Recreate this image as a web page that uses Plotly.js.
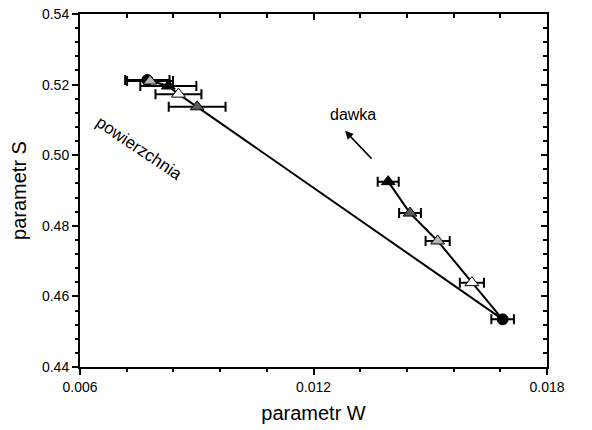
<!DOCTYPE html>
<html>
<head>
<meta charset="utf-8">
<script src="https://cdn.plot.ly/plotly-3.0.1.min.js"></script>
<style>html,body{margin:0;padding:0;background:#fff;}#chart{width:592px;height:430px;}</style>
</head>
<body>
<div id="chart"></div>
<script>
// Dose levels (marker order: circle, white, light gray, dark gray, black)
var levels = ['0', '1', '2', '3', '4'];

// "dawka" series (bulk) — parametr W, parametr S, W error
var dawkaW   = [0.01686, 0.01607, 0.01519, 0.01448, 0.01392];
var dawkaS   = [0.4535, 0.4639, 0.4757, 0.4836, 0.4925];
var dawkaErr = [0.00029, 0.00031, 0.00031, 0.00028, 0.00027];

// "powierzchnia" series (surface)
var powW   = [0.00773, 0.00853, 0.00780, 0.00901, 0.00827];
var powS   = [0.5213, 0.5173, 0.5210, 0.5137, 0.5196];
var powErr = [0.00057, 0.00059, 0.00059, 0.00073, 0.00072];

var xTicks = [0.006, 0.012, 0.018];
var xLabels = ['0.006', '0.012', '0.018'];
var yTicks = [0.44, 0.46, 0.48, 0.50, 0.52, 0.54];
var yLabels = ['0.44', '0.46', '0.48', '0.50', '0.52', '0.54'];

// styles
var symbols = ['circle', 'triangle-up', 'triangle-up', 'triangle-up', 'triangle-up'];
var fills   = ['#000000', '#ffffff', '#b4b4b4', '#5a5a5a', '#000000'];
var sizes   = [11, 12, 12, 12, 12];

// connecting polyline: dawka from black to circle, then surface from dark to circle
var lineOrderD = [4, 3, 2, 1, 0];
var lineOrderP = [3, 1, 4, 2, 0];
var lineX = [], lineY = [];
lineOrderD.forEach(function(i){ lineX.push(dawkaW[i]); lineY.push(dawkaS[i]); });
lineOrderP.forEach(function(i){ lineX.push(powW[i]); lineY.push(powS[i]); });

var traces = [{
  x: lineX, y: lineY, mode: 'lines', type: 'scatter',
  line: {color: '#000', width: 2}, hoverinfo: 'skip', showlegend: false
}];

levels.forEach(function(lv, i){
  traces.push({
    x: [dawkaW[i], powW[i]], y: [dawkaS[i], powS[i]],
    mode: 'markers', type: 'scatter', name: lv, showlegend: false,
    error_x: {type: 'data', array: [dawkaErr[i], powErr[i]], color: '#000', thickness: 2, width: 5},
    marker: {symbol: symbols[i], color: fills[i], size: sizes[i], line: {color: '#000', width: 1}}
  });
});

// holders for the mirror / minor tick axes (invisible)
['2', '3', '4'].forEach(function(k){
  traces.push({x: [xTicks[0]], y: [yTicks[0]], xaxis: 'x' + k, yaxis: 'y' + k, mode: 'markers',
    marker: {opacity: 0}, hoverinfo: 'skip', showlegend: false});
});

function minorVals(ticks, n){
  var out = [];
  for (var k = 0; k < ticks.length - 1; k++){
    for (var j = 1; j < n; j++) out.push(ticks[k] + (ticks[k+1] - ticks[k]) * j / n);
  }
  return out;
}
var xMinor = minorVals(xTicks, 5);
var yMinor = minorVals(yTicks, 5);

var font = 'Arial, "Liberation Sans", sans-serif';
var xr = [xTicks[0], xTicks[xTicks.length-1]];
var yr = [yTicks[0], yTicks[yTicks.length-1]];

function ax(range, vals, dir, len, showline){
  return {
    range: range, tickmode: 'array', tickvals: vals, showticklabels: false,
    ticks: dir, ticklen: len, tickwidth: 2, tickcolor: '#000',
    showgrid: false, zeroline: false, showline: showline, linecolor: '#000', linewidth: 2
  };
}

var xa = ax(xr, xTicks, 'outside', 6, true);
xa.ticktext = xLabels; xa.showticklabels = true; xa.tickfont = {size: 14};
xa.title = {text: 'parametr W', font: {size: 20}, standoff: 12};
var ya = ax(yr, yTicks, 'outside', 6, true);
ya.ticktext = yLabels; ya.showticklabels = true; ya.tickfont = {size: 14};
ya.title = {text: 'parametr S', font: {size: 20}, standoff: 10};

var xa2 = ax(xr, xTicks, 'inside', 6, true);
xa2.overlaying = 'x'; xa2.side = 'top'; xa2.anchor = 'y2';
var ya2 = ax(yr, yTicks, 'inside', 6, true);
ya2.overlaying = 'y'; ya2.side = 'right'; ya2.anchor = 'x2';

var xa3 = ax(xr, xMinor, 'outside', 4, false);
xa3.overlaying = 'x'; xa3.side = 'bottom'; xa3.anchor = 'y3';
var ya3 = ax(yr, yMinor, 'outside', 4, false);
ya3.overlaying = 'y'; ya3.side = 'left'; ya3.anchor = 'x3';

var xa4 = ax(xr, xMinor, 'inside', 4, false);
xa4.overlaying = 'x'; xa4.side = 'top'; xa4.anchor = 'y4';
var ya4 = ax(yr, yMinor, 'inside', 4, false);
ya4.overlaying = 'y'; ya4.side = 'right'; ya4.anchor = 'x4';

var layout = {
  width: 592, height: 430,
  margin: {l: 80, r: 45, t: 14, b: 63},
  paper_bgcolor: '#fff', plot_bgcolor: '#fff',
  font: {family: font, color: '#000', size: 14},
  showlegend: false,
  xaxis: xa, yaxis: ya, xaxis2: xa2, yaxis2: ya2,
  xaxis3: xa3, yaxis3: ya3, xaxis4: xa4, yaxis4: ya4,
  annotations: [
    {x: 0.01302, y: 0.5114, xref: 'x', yref: 'y', text: 'dawka', showarrow: false, font: {size: 16}},
    {x: 0.01281, y: 0.5069, ax: 0.01353, ay: 0.4986, axref: 'x', ayref: 'y', xref: 'x', yref: 'y',
     text: '', showarrow: true, arrowhead: 2, arrowsize: 1.1, arrowwidth: 1.5, arrowcolor: '#000'},
    {x: 0.00752, y: 0.5018, xref: 'x', yref: 'y', text: 'powierzchnia', showarrow: false,
     textangle: 34, font: {size: 17}}
  ]
};

Plotly.newPlot('chart', traces, layout, {displayModeBar: false, staticPlot: true});
</script>
</body>
</html>
